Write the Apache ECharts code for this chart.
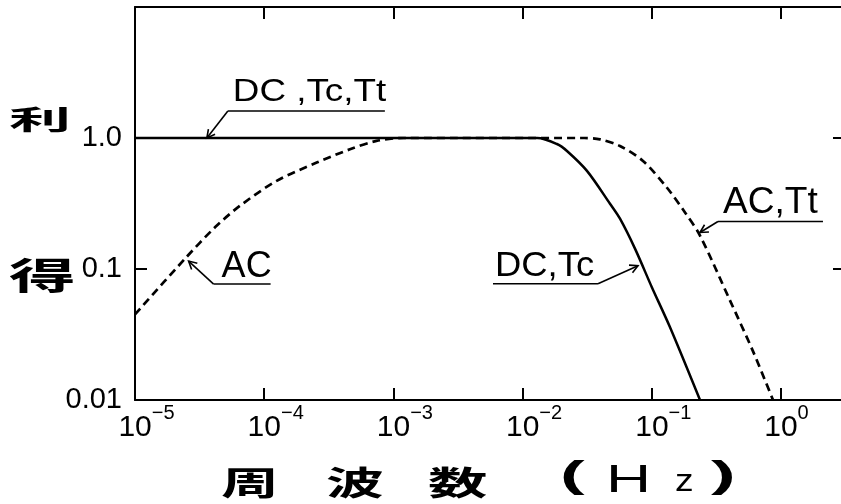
<!DOCTYPE html>
<html><head><meta charset="utf-8">
<script src="https://cdn.jsdelivr.net/npm/echarts/dist/echarts.min.js"></script>
<style>html,body{margin:0;padding:0;background:#fff}#c{width:841px;height:504px}</style>
</head><body><div id="c"></div>
<script>
// ---------- data ----------
const xExponents = [-5, -4, -3, -2, -1, 0];          // tick labels 10^n
const yExponents = [-2, -1, 0];
const yTickText  = ['0.01', '0.1', '1.0'];

// DC, Tc (solid)
const dcTcFreq = [1e-5, 1e-3, 0.013, 0.01845, 0.02206, 0.0315, 0.04747, 0.05675, 0.07413, 0.1003, 0.1384, 0.2361];
const dcTcGain = [1.0, 1.0, 1.0, 0.90, 0.796, 0.561, 0.315, 0.242, 0.143, 0.0723, 0.0359, 0.01];

// AC, Tt (dashed)
const acTtFreq = [1e-5, 2.44e-5, 4.16e-5, 6.5e-5, 1.25e-4, 2.55e-4, 4.61e-4, 7.4e-4, 1.2e-3, 0.03, 0.0397, 0.0567, 0.0855, 0.1312, 0.1813, 0.2361, 0.4027, 0.6067, 0.867];
const acTtGain = [0.045, 0.12, 0.208, 0.304, 0.471, 0.649, 0.82, 0.95, 1.0, 1.0, 0.977, 0.869, 0.668, 0.417, 0.269, 0.18, 0.0576, 0.0236, 0.01];

// annotation texts and their arrow targets (data coordinates)
const annotationLabels  = ['DC ,Tc,Tt', 'AC', 'DC,Tc', 'AC,Tt'];
const annotationTargets = [[3.6e-5, 1.0], [2.6e-5, 0.115], [0.0782, 0.106], [0.236, 0.19]];

// ---------- layout / style ----------
const FONT = '"Liberation Sans", Arial, sans-serif';
const CJK = '"Noto Sans CJK JP", "Noto Sans CJK SC", sans-serif';
const annotationLayout = [
  { elbow: [21, -27], under: [0, 157], textDx: 5,    baseDy: -8, fs: 32, sx: 1.15 },
  { elbow: [25, 23],  under: [0, 57],  textDx: 8,    baseDy: -4, fs: 36, sx: 1.0 },
  { elbow: [-40, 18], under: [-105, 0], textDx: -103, baseDy: -5, fs: 35, sx: 1.04 },
  { elbow: [18, -11], under: [0, 105], textDx: 5,    baseDy: -6, fs: 36, sx: 1.03 }
];

const dcTc = dcTcFreq.map((f, i) => [f, dcTcGain[i]]);
const acTt = acTtFreq.map((f, i) => [f, acTtGain[i]]);

function expOf(v) {
  const l = Math.log10(v), n = Math.round(l);
  return Math.abs(l - n) > 1e-6 ? null : n;
}
function fmtX(v) {
  const n = expOf(v);
  if (n === null || xExponents.indexOf(n) < 0) return '';
  const sup = n < 0 ? '\u2212' + (-n) : String(n);
  return '{' + (n < 0 ? 'spw' : 'spn') + '| }{b|10}{s|' + sup + '}';
}
function fmtY(v) {
  const n = expOf(v);
  const k = n === null ? -1 : yExponents.indexOf(n);
  return k < 0 ? '' : yTickText[k];
}

const XMIN = 1e-5, XMAX = 3.02, YMIN = 0.01, YMAX = 10;
const black = '#000';

const chart = echarts.init(document.getElementById('c'));
chart.setOption({
  animation: false,
  backgroundColor: '#fff',
  grid: { left: 135, right: -2, top: 7, bottom: 104, containLabel: false, outerBoundsMode: 'none' },
  xAxis: [
    {
      type: 'log', logBase: 10, min: XMIN, max: XMAX, position: 'bottom',
      axisLine: { show: true, onZero: false, lineStyle: { color: black, width: 2 } },
      axisTick: { show: true, inside: true, length: 12, lineStyle: { color: black, width: 2 } },
      splitLine: { show: false }, minorTick: { show: false },
      axisLabel: {
        show: true, interval: 0, margin: 3, formatter: fmtX, color: black,
        rich: {
          spw: { width: 23, lineHeight: 40, fontSize: 20, fontFamily: FONT },
          spn: { width: 11, lineHeight: 40, fontSize: 20, fontFamily: FONT },
          b: { fontSize: 30, lineHeight: 30, verticalAlign: 'bottom', fontFamily: FONT, color: black },
          s: { fontSize: 20, lineHeight: 20, verticalAlign: 'top', fontFamily: FONT, color: black }
        }
      }
    },
    {
      type: 'log', logBase: 10, min: XMIN, max: XMAX, position: 'top',
      axisLine: { show: true, onZero: false, lineStyle: { color: black, width: 2 } },
      axisTick: { show: true, inside: true, length: 12, lineStyle: { color: black, width: 2 } },
      axisLabel: { show: false }, splitLine: { show: false }
    }
  ],
  yAxis: [
    {
      type: 'log', logBase: 10, min: YMIN, max: YMAX, position: 'left',
      axisLine: { show: true, onZero: false, lineStyle: { color: black, width: 2 } },
      axisTick: { show: true, inside: true, length: 12, lineStyle: { color: black, width: 2 } },
      splitLine: { show: false },
      axisLabel: { show: true, margin: 13, formatter: fmtY, color: black, fontSize: 29, fontFamily: FONT }
    },
    {
      type: 'log', logBase: 10, min: YMIN, max: YMAX, position: 'right',
      axisLine: { show: false },
      axisTick: { show: true, inside: true, length: 10, lineStyle: { color: black, width: 2 } },
      axisLabel: { show: false }, splitLine: { show: false }
    }
  ],
  series: [
    {
      name: 'AC,Tt', type: 'line', data: acTt, showSymbol: false, smooth: 0.3, z: 2,
      lineStyle: { color: black, width: 2.7, type: [8, 5] }
    },
    {
      name: 'DC,Tc', type: 'line', data: dcTc, showSymbol: false, smooth: 0.3, z: 3,
      lineStyle: { color: black, width: 2.5 }
    }
  ]
});

// ---------- annotations & titles ----------
const g = [];
annotationLabels.forEach((txt, i) => {
  const L = annotationLayout[i];
  const t = chart.convertToPixel({ xAxisIndex: 0, yAxisIndex: 0 }, annotationTargets[i]);
  const e = [t[0] + L.elbow[0], t[1] + L.elbow[1]];
  g.push({ type: 'polyline', shape: { points: [t, e] }, style: { stroke: black, lineWidth: 1.6, fill: null }, z: 10 });
  g.push({ type: 'line', shape: { x1: e[0] + L.under[0], y1: e[1], x2: e[0] + L.under[1], y2: e[1] },
           style: { stroke: black, lineWidth: 1.6 }, z: 10 });
  const dx = e[0] - t[0], dy = e[1] - t[1], len = Math.hypot(dx, dy);
  const ux = dx / len, uy = dy / len, a = 28 * Math.PI / 180, r = 9;
  const arm = s => [t[0] + r * (ux * Math.cos(s * a) - uy * Math.sin(s * a)),
                    t[1] + r * (ux * Math.sin(s * a) + uy * Math.cos(s * a))];
  g.push({ type: 'polyline', shape: { points: [arm(1), t, arm(-1)] }, style: { stroke: black, lineWidth: 1.6, fill: null }, z: 10 });
  const baseY = e[1] + L.baseDy;
  g.push({ type: 'text', x: e[0] + L.textDx, y: baseY - 0.3465 * L.fs, scaleX: L.sx, z: 10,
           style: { text: txt, fill: black, fontSize: L.fs, fontFamily: FONT, align: 'left', verticalAlign: 'middle' } });
});

function title(text, x, y, fs, sx, font, weight) {
  g.push({ type: 'text', x: x, y: y, scaleX: sx, z: 10,
           style: { text: text, fill: black, fontSize: fs, fontFamily: font, fontWeight: weight,
                    align: 'left', verticalAlign: 'middle' } });
}
title('利', 9, 120, 27, 2.3, CJK, 'bold');
title('得', 9, 276, 37, 1.8, CJK, 'bold');
title('周', 221, 482, 33, 1.75, CJK, 'bold');
title('波', 326, 482, 33, 1.75, CJK, 'bold');
title('数', 428, 482, 33, 1.8, CJK, 'bold');
title('(', 560, 477, 37, 2.0, FONT, 'bold');
title('H', 606, 481, 39, 1.6, FONT, 'normal');
title('z', 675, 482, 31, 1.2, FONT, 'normal');
title(')', 711, 477, 37, 2.0, FONT, 'bold');

chart.setOption({ graphic: g });
</script>
</body></html>
